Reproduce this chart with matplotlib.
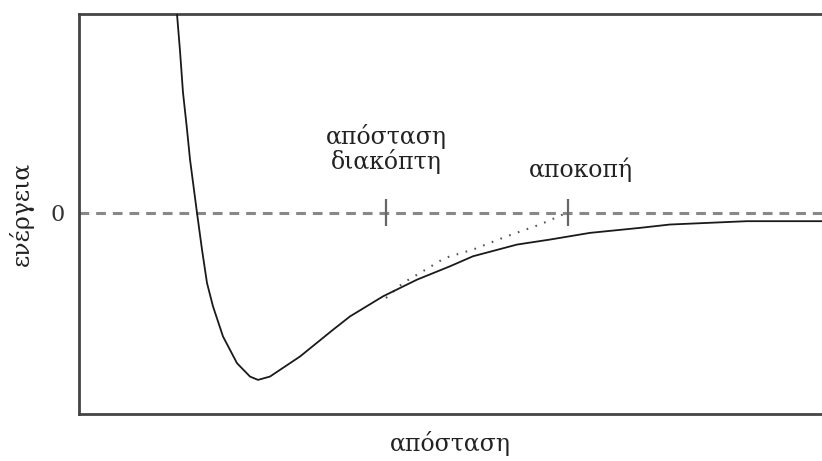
import matplotlib
matplotlib.use("Agg")
import matplotlib.pyplot as plt

plt.rcParams['font.family'] = ['DejaVu Serif']
plt.rcParams['lines.scale_dashes'] = False

# Potential energy vs distance (arbitrary units)
r_pot = [0.98, 1.01, 1.04, 1.08, 1.11, 1.18, 1.23, 1.28, 1.34, 1.44, 1.58, 1.71,
         1.79, 1.91, 2.21, 2.54, 2.71, 3.04, 3.38, 3.71, 3.94, 4.38, 4.71, 5.11,
         5.61, 5.91, 6.68, 7.43]
e_pot = [1.19, 0.97, 0.72, 0.50, 0.32, 0.0, -0.22, -0.42, -0.56, -0.74, -0.90, -0.98,
         -1.0, -0.98, -0.86, -0.70, -0.62, -0.50, -0.40, -0.32, -0.26, -0.19, -0.16, -0.12,
         -0.09, -0.07, -0.05, -0.05]

# Switched potential between switch distance and cutoff
r_sw = [3.07, 3.24, 3.41, 3.66, 3.94, 4.28, 4.61, 4.84, 4.89]
e_sw = [-0.51, -0.42, -0.36, -0.27, -0.22, -0.14, -0.07, -0.01, 0.0]

r_switch = 3.07
r_cutoff = 4.89

fig = plt.figure(figsize=(8.22, 4.61), dpi=100)
ax = fig.add_axes([0.0961, 0.102, 0.9039, 0.8676])

ax.axhline(0, color='#888888', lw=2.2, dashes=(7, 5), zorder=1)
ax.vlines([r_switch, r_cutoff], -0.08, 0.08, color='#666666', lw=1.6, zorder=2)
ax.plot(r_sw, e_sw, color='#555555', lw=1.5, ls=(0, (1.2, 5.5)), zorder=3)
ax.plot(r_pot, e_pot, color='#1a1a1a', lw=1.3, zorder=4)

ax.text(r_switch, 0.38, "απόσταση\nδιακόπτη", ha='center', va='center',
        fontsize=17, linespacing=1.0, color='#222222')
ax.text(5.02, 0.26, "αποκοπή", ha='center', va='center', fontsize=17, color='#222222')

ax.set_xlim(0, 7.43)
ax.set_ylim(-1.204, 1.19)
ax.set_xticks([])
ax.set_yticks([0])
ax.set_yticklabels(["0"], fontsize=16, color='#333333')
ax.tick_params(axis='y', length=0, pad=10)
ax.set_xlabel("απόσταση", fontsize=17, color='#222222', labelpad=12)
ax.set_ylabel("ενέργεια", fontsize=17, color='#222222', labelpad=12)

for side in ['left', 'top', 'bottom']:
    ax.spines[side].set_color('#444444')
    ax.spines[side].set_linewidth(2)
ax.spines['right'].set_visible(False)

fig.savefig("out.png", dpi=100)
